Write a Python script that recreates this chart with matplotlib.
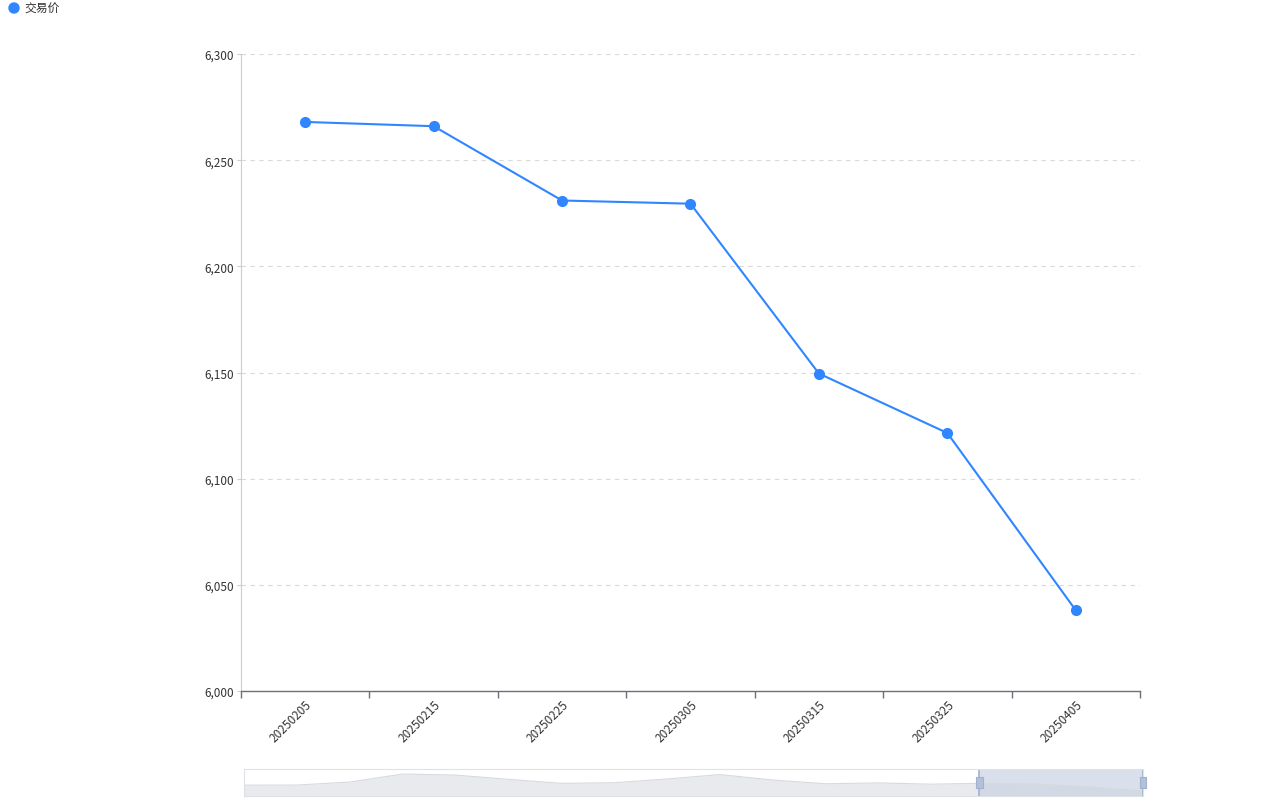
import matplotlib
matplotlib.use("Agg")
import matplotlib.pyplot as plt
import numpy as np
from matplotlib.patches import Rectangle, Ellipse

plt.rcParams['font.family'] = ['Noto Sans CJK SC', 'DejaVu Sans']

categories = ["20250205", "20250215", "20250225", "20250305", "20250315", "20250325", "20250405"]
prices = [6268, 6266, 6231, 6229.5, 6149.5, 6121.5, 6038]
series_name = "交易价"
y_ticks = [6000, 6050, 6100, 6150, 6200, 6250, 6300]
# full-history shadow drawn in the zoom slider
shadow_values = [6210, 6212, 6300, 6535, 6505, 6380, 6262, 6280, 6390, 6520,
                 6360, 6250, 6275, 6238, 6266, 6240, 6160, 6039]
window_start = 0.818  # fraction of slider where the selected window begins

W, H = 1267, 804
fig = plt.figure(figsize=(W / 100, H / 100), dpi=100)
fig.patch.set_facecolor("white")

blue = "#2f86ff"

ax = fig.add_axes([241 / W, 1 - 692 / H, 899 / W, 637 / H])
x = np.arange(len(categories))
ax.plot(x, prices, color=blue, lw=1.5, marker="o", ms=7, markerfacecolor=blue,
        markeredgecolor=blue, zorder=3, clip_on=False)
ax.set_xlim(-0.5, len(categories) - 0.5)
ax.set_ylim(y_ticks[0], y_ticks[-1])
ax.set_yticks(y_ticks)
ax.set_yticklabels([f"{v:,}" for v in y_ticks], fontsize=8.5, color="#333333")
ax.set_xticks(np.arange(len(categories) + 1) - 0.5)
ax.set_xticklabels([])
ax.set_xticks(x, minor=True)
ax.set_xticklabels(categories, minor=True, rotation=45, ha="right", va="top",
                   rotation_mode="anchor", fontsize=8.5, color="#333333")
ax.tick_params(axis="x", which="major", length=5, color="#6e7079", width=1)
ax.tick_params(axis="x", which="minor", length=0, pad=5)
ax.tick_params(axis="y", length=3, color="#cccccc", pad=2)
ax.grid(axis="y", color="#d9d9d9", linestyle=(0, (4, 4)), lw=0.8)
ax.set_axisbelow(True)
for s in ["top", "right"]:
    ax.spines[s].set_visible(False)
ax.spines["left"].set_color("#cccccc")
ax.spines["bottom"].set_color("#6e7079")
ax.spines["bottom"].set_linewidth(1)

# legend
fig.text(24 / W, 1 - 9 / H, series_name, fontsize=8.5, color="#333333", va="center", ha="left")
fig.add_artist(Ellipse((14 / W, 1 - 9 / H), width=10 / W, height=10 / H,
                       transform=fig.transFigure, color=blue))

# data zoom slider
sx = fig.add_axes([244 / W, 1 - 797 / H, 899 / W, 27 / H])
n = len(shadow_values)
xs = np.linspace(0, 1, n)
vmin, vmax = min(shadow_values), max(shadow_values)
off = (vmax - vmin) * 0.3
lo, hi = vmin - off, vmax + off
sx.set_xlim(0, 1)
sx.set_ylim(lo, hi)
sx.fill_between(xs, lo, shadow_values, color="#e8eaed", lw=0)
sx.plot(xs, shadow_values, color="#d6d9de", lw=0.8)
sx.axvspan(window_start, 1, color="#c9d3e3", alpha=0.7, lw=0)
for xv in [window_start, 1]:
    sx.axvline(xv, color="#9fb2cf", lw=1.2)
    sx.add_patch(Rectangle((xv - 0.0035, lo + (hi - lo) * 0.28), 0.007,
                           (hi - lo) * 0.44, facecolor="#b3c1d8",
                           edgecolor="#9fb2cf", lw=0.8, zorder=5, clip_on=False))
sx.set_xticks([])
sx.set_yticks([])
for s in sx.spines.values():
    s.set_color("#dde1e8")

fig.savefig("out.png", dpi=100, facecolor="white")
